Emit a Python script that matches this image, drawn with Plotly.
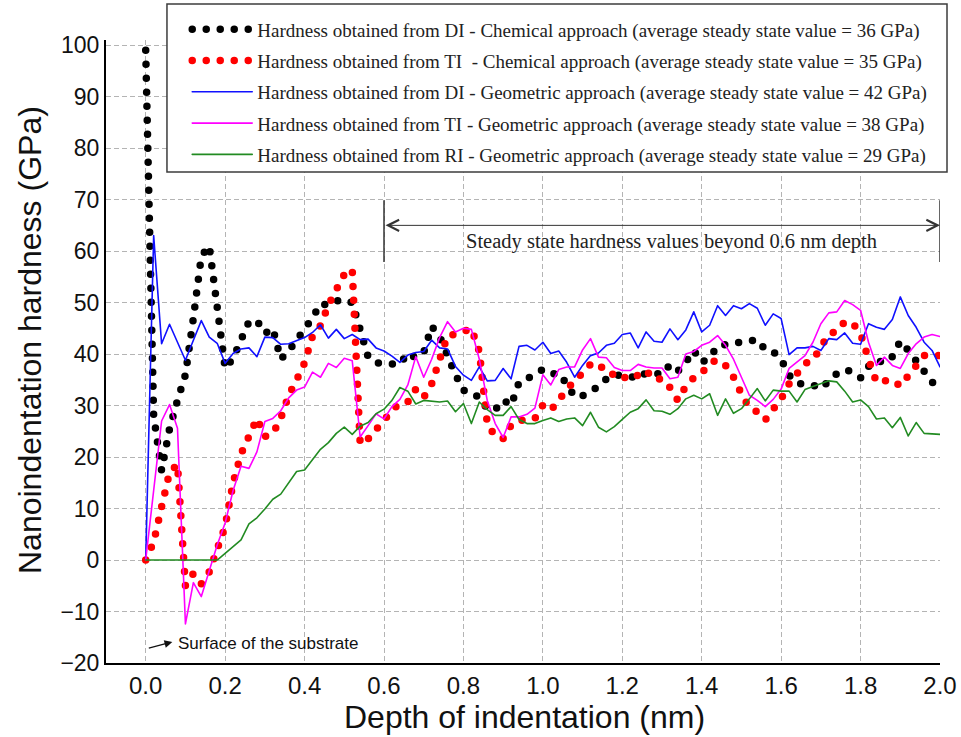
import plotly.graph_objects as go

# Depth grid (nm), sampled every 0.02 nm
depth = [round(0.02 * i, 2) for i in range(101)]

# Nanoindentation hardness (GPa) for each method
hard_di_chem = [
    99, 28, 17.4, 25.5, 31, 36, 47, 59, 61, 49,
    37.2, 39.2, 43.2, 46.3, 46.5, 44, 45, 39, 40.6, 42.8,
    44.5, 47, 49.8, 49.5, 50.3, 50.6, 50, 44.5, 39.5, 38.3,
    38.2, 38.4, 38, 40.2, 39.3, 40.3, 45.4, 43.4, 39.5, 36,
    33, 32, 31.8, 29.3, 29.2, 31.1, 30, 34.5, 35.2, 36,
    37, 36.1, 36.3, 34.2, 31.7, 31.9, 32.8, 33.7, 35.2, 36,
    35.8, 35.7, 35.2, 36.4, 36.3, 36, 37.9, 36.7, 38.4, 40.7,
    38.4, 39.3, 41.6, 41.9, 42.1, 42.2, 42.6, 42.8, 40.8, 40.5,
    39, 35.9, 34.3, 34.3, 34, 33.3, 34.6, 36.2, 37, 36.5,
    35.4, 37.6, 38.8, 38.3, 39.5, 42.5, 40.7, 38.7, 36.8, 35, 32.6,
]
hard_ti_chem = [
    0, 3.5, 10.3, 17, 18.6, -5, -2.6, -4.6, -2.3, 2.6,
    6.5, 15, 20.6, 24, 27.5, 24, 24.5, 27.5, 32, 35,
    38.3, 43.5, 45.5, 49.5, 52.3, 55.5, 56.5, 22.5, 23.5, 25.5,
    27, 29, 30.5, 30.7, 33.2, 31.6, 34.2, 39.4, 43.6, 43.8,
    44.5, 45, 40.5, 26.5, 24, 23.6, 26.2, 27.2, 27.1, 27.5,
    30.1, 29.1, 31, 33.2, 34.7, 36.3, 38, 38.2, 36.3, 36,
    35.1, 36.2, 35.8, 36.8, 35, 35.2, 33.5, 31, 33.8, 35.4,
    36.3, 38.2, 38.9, 37.8, 35.5, 32.3, 29.5, 28.8, 27.2, 29.3,
    31.3, 34.2, 36.1, 38.2, 38.8, 41.7, 43.9, 44.4, 46.3, 46,
    44, 39, 34.5, 34.8, 35, 33.8, 35.8, 38, 39.7, 39.7, 39.7,
]
hard_di_geo = [
    0, 63, 42, 45.8, 42.3, 38.8, 42.7, 46.5, 43.3, 42.1,
    38.2, 40.1, 41, 41.2, 39.5, 43.3, 43.2, 41.9, 42, 42.6,
    43.2, 44.2, 45.7, 43.1, 44.8, 43, 43.8, 42.8, 42.9, 41.2,
    40.6, 39.6, 38.4, 39.8, 40.3, 40.5, 42.7, 41.2, 41, 37.6,
    35.9, 34.9, 37.5, 34.8, 34.9, 37.2, 35.2, 41.5, 41.7, 40.8,
    42.3, 40.1, 40.6, 38.4, 35.5, 37.8, 39.7, 40.2, 41.7, 42.1,
    43.8, 44.1, 41.2, 44.3, 42.5, 42.3, 44.9, 42.8, 44.7, 48.2,
    44.3, 45.6, 49.4, 47.5, 49.4, 48.8, 49.8, 48.9, 45.6, 47.8,
    46.9, 39.9, 41.2, 41.2, 41.5, 40.7, 43, 42.8, 44.1, 42.1,
    41.9, 45.9, 45.2, 44.8, 46.7, 51.1, 47.5, 45.2, 42.3, 40.7, 37.5,
]
hard_ti_geo = [
    0, 14, 27, 30.2, 25.6, -12.4, -4.4, -7.1, -2.3, 2.9,
    7.2, 13.5, 18.2, 17.8, 21, 26.9, 27.5, 29, 31.5, 33,
    33.6, 36.5, 35.5, 38.2, 37.4, 39.2, 38.7, 23.9, 26.1, 28.4,
    27.4, 29.8, 31.2, 34, 39.5, 35.5, 39, 43.2, 46.3, 44.3,
    45, 44.8, 39, 31, 26.5, 23.8, 27.8, 27.8, 28.3, 29.5,
    36, 34, 37, 37.5, 37.5, 40.8, 43, 39.4, 39.3, 37.4,
    36.8, 36.8, 38, 37.5, 37.3, 37.3, 35.2, 35.5, 40, 40.5,
    41.7, 42.3, 43.6, 41.7, 39, 35.5, 32, 31, 29.8, 31.2,
    33.2, 37.2, 38.4, 39.7, 42.3, 45.9, 48, 48.2, 50.4, 49.6,
    48.5, 42.3, 37.8, 39.4, 37.8, 37.2, 40.1, 42, 43.3, 43.8, 43.4,
]
hard_ri_geo = [
    0, 0, 0, 0, 0, 0, 0, 0, 0, 0,
    1.3, 2.6, 3.9, 7, 8.2, 9.9, 11.8, 12.8, 15, 17.2,
    17.5, 19.6, 21.5, 22.8, 24.6, 25.8, 24.4, 26, 26.7, 28.4,
    29.3, 31, 33.5, 32.8, 30.3, 31, 30.9, 30.7, 30.9, 28.8,
    30.4, 26.5, 30.7, 29.2, 28.1, 28.1, 29.8, 27.3, 26.5, 26.5,
    27.1, 27.6, 26.9, 27.4, 27.6, 26.1, 28.7, 25.8, 24.9, 25.9,
    27.3, 28.7, 29.4, 31.1, 29, 28.9, 28.3, 29.4, 31.3, 32,
    31.3, 32.3, 28.1, 31.3, 28.5, 29.4, 31.3, 33.3, 30.9, 33,
    32.8, 32.8, 30.7, 33.1, 33.7, 34.2, 34.8, 34.6, 32.8, 30.7,
    31.1, 29.8, 27.4, 27.6, 25.7, 27.7, 24.1, 26.7, 24.6, 24.5, 24.4,
]

series_names = [
    "Hardness obtained from DI - Chemical approach (average steady state value = 36 GPa)",
    "Hardness obtained from TI  - Chemical approach (average steady state value = 35 GPa)",
    "Hardness obtained from DI - Geometric approach (average steady state value = 42 GPa)",
    "Hardness obtained from TI - Geometric approach (average steady state value = 38 GPa)",
    "Hardness obtained from RI - Geometric approach (average steady state value = 29 GPa)",
]
x_ticks = [0.0, 0.2, 0.4, 0.6, 0.8, 1.0, 1.2, 1.4, 1.6, 1.8, 2.0]
x_grid = [0.0, 0.2, 0.4, 0.6, 0.8, 1.0, 1.2, 1.4, 1.6, 1.8]
y_ticks = [-20, -10, 0, 10, 20, 30, 40, 50, 60, 70, 80, 90, 100]

steady_start, steady_end = 0.6, 2.0
x_range = [-0.1, 2.0]

SANS = "Liberation Sans, Arial, sans-serif"
SERIF = "Liberation Serif, Times New Roman, serif"
DOTS = "0px,14px"
GRID = dict(gridcolor="#b4b4b4", gridwidth=1, griddash="5px,3px")

styles = [
    dict(color="#000000", width=7.5, dash=DOTS),
    dict(color="#ff0000", width=7.5, dash=DOTS),
    dict(color="#1010ff", width=1.6),
    dict(color="#ff00ff", width=1.6),
    dict(color="#228b22", width=1.6),
]
values = [hard_di_chem, hard_ti_chem, hard_di_geo, hard_ti_geo, hard_ri_geo]
# the last curve sits on the overlay axis that carries the vertical grid
x_refs = ["x", "x", "x", "x", "x2"]

fig = go.Figure()
for i, (name, ys, ln, xr) in enumerate(zip(series_names, values, styles, x_refs)):
    fig.add_trace(go.Scatter(
        x=depth, y=ys, mode="lines", name=name, line=ln,
        legendgroup=f"g{i}", xaxis=xr, yaxis="y",
    ))

tick_font = dict(family=SANS, size=23, color="#111111")
fig.update_layout(
    xaxis=dict(range=x_range, tickvals=x_ticks, tickformat=".1f", showgrid=False,
               showline=True, linecolor="#000000", linewidth=2, zeroline=False,
               ticks="", tickfont=dict(family=SANS, size=24, color="#111111")),
    # vertical grid only at interior ticks
    xaxis2=dict(range=x_range, overlaying="x", anchor="y", side="bottom", tickvals=x_grid,
                showticklabels=False, showgrid=True, showline=False, zeroline=False,
                ticks="", **GRID),
    yaxis=dict(range=[-20, 101], tickvals=y_ticks, showgrid=True, **GRID,
               showline=True, linecolor="#000000", linewidth=2, zeroline=False,
               ticks="", tickfont=tick_font),
)

# Legend frame
fig.add_shape(type="rect", xref="paper", yref="paper",
              x0=0.0731, x1=1.0084, y0=0.7881, y1=1.0578,
              fillcolor="white", line=dict(color="#3c3c3c", width=1.5), layer="above")

# Steady state region marker
for xv in (steady_start, steady_end):
    fig.add_shape(type="line", xref="x", yref="y", x0=xv, x1=xv, y0=57.9, y1=69.9,
                  line=dict(color="#333333", width=1.5), layer="above")

annotations = [
    dict(x=steady_end, y=65, ax=steady_start, ay=65, xref="x", yref="y", axref="x", ayref="y",
         text="", showarrow=True, arrowhead=5, startarrowhead=5, arrowside="end+start",
         arrowwidth=1, arrowsize=2.2, startarrowsize=2.2, arrowcolor="#333333"),
    dict(x=1.325, y=61.8, xref="x", yref="y", showarrow=False,
         text="Steady state hardness values beyond 0.6 nm depth",
         font=dict(family=SERIF, size=20.5, color="#222222"), xanchor="center", yanchor="middle"),
    dict(x=0.067, y=-15.9, ax=0.004, ay=-17.2, xref="x", yref="y", axref="x", ayref="y",
         text="", showarrow=True, arrowhead=2, arrowwidth=1.2, arrowsize=1.3, arrowcolor="#111111"),
    dict(x=0.075, y=-16.2, xref="x", yref="y", showarrow=False, text="Surface of the substrate",
         font=dict(family=SANS, size=17, color="#111111"), xanchor="left", yanchor="middle"),
    dict(x=0.5018, y=-0.087, xref="paper", yref="paper", showarrow=False,
         text="Depth of indentation (nm)", font=dict(family=SANS, size=32, color="#111111"),
         xanchor="center", yanchor="middle"),
    dict(x=-0.0911, y=0.5185, xref="paper", yref="paper", showarrow=False, textangle=-90,
         text="Nanoindentation hardness (GPa)", font=dict(family=SANS, size=32, color="#111111"),
         xanchor="center", yanchor="middle"),
]

fig.update_layout(
    width=961, height=737,
    margin=dict(l=106, r=21, t=40, b=74, pad=0, autoexpand=False),
    paper_bgcolor="white", plot_bgcolor="white",
    showlegend=True,
    legend=dict(x=0.0974, y=1.0476, xanchor="left", yanchor="top",
                bgcolor="rgba(0,0,0,0)", borderwidth=0,
                font=dict(family=SERIF, size=19, color="#222222"),
                traceorder="grouped", tracegroupgap=3.6, itemwidth=60),
    annotations=annotations,
)

# Round line caps turn the dash pattern into round dots
round_caps = (
    "var s=document.createElement('style');"
    "s.textContent='.scatterlayer .js-line, .legendlines path"
    "{stroke-linecap:round;stroke-linejoin:round;}';"
    "document.head.appendChild(s);"
)
fig.write_html("out.html", post_script=round_caps)
